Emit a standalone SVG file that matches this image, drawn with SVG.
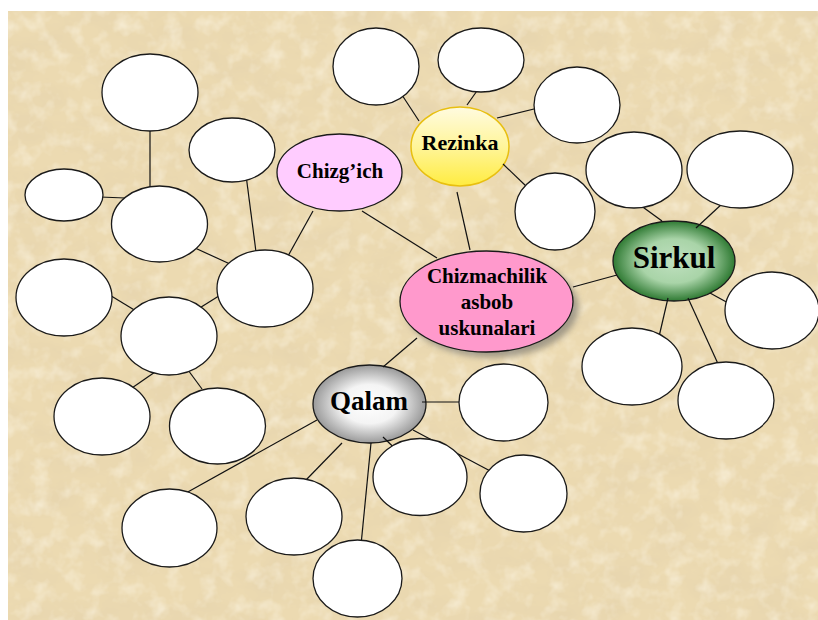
<svg xmlns="http://www.w3.org/2000/svg" width="818" height="620" viewBox="0 0 818 620">
<defs>
<style>
.blank{fill:#ffffff;stroke:#1a1a1a;stroke-width:1.3}
.lbl{font-weight:bold;fill:#000;text-anchor:middle}
#connectors line{stroke:#111;stroke-width:1.2}
</style>
<filter id="tex" x="0" y="0" width="100%" height="100%">
<feTurbulence type="fractalNoise" baseFrequency="0.02 0.035" numOctaves="5" seed="7"/>
<feColorMatrix type="matrix" values="0 0 0 0 0.78  0 0 0 0 0.65  0 0 0 0 0.42  1.3 0 0 0 -0.5"/>
</filter>
<filter id="tex2" x="0" y="0" width="100%" height="100%">
<feTurbulence type="fractalNoise" baseFrequency="0.06" numOctaves="3" seed="2"/>
<feColorMatrix type="matrix" values="0 0 0 0 0.98  0 0 0 0 0.93  0 0 0 0 0.80  1.2 0 0 0 -0.55"/>
</filter>
<filter id="shadow" x="-20%" y="-20%" width="140%" height="140%">
<feGaussianBlur stdDeviation="3"/>
</filter>
<linearGradient id="yellow" x1="0" y1="0" x2="0" y2="1">
<stop offset="0" stop-color="#fffbe0"/>
<stop offset="0.5" stop-color="#fff59a"/>
<stop offset="1" stop-color="#ffec40"/>
</linearGradient>
<radialGradient id="green" cx="0.5" cy="0.5" r="0.5">
<stop offset="0" stop-color="#bfe0bf"/>
<stop offset="0.55" stop-color="#a9d4a8"/>
<stop offset="1" stop-color="#2f7a33"/>
</radialGradient>
<radialGradient id="gray" cx="0.5" cy="0.5" r="0.5">
<stop offset="0" stop-color="#ffffff"/>
<stop offset="0.5" stop-color="#f4f4f4"/>
<stop offset="1" stop-color="#9a9a9a"/>
</radialGradient>
</defs>
<rect x="0" y="0" width="818" height="620" fill="#ffffff"/>
<rect x="8" y="11" width="810" height="609" fill="#ecdab1"/>
<rect x="8" y="11" width="810" height="609" filter="url(#tex)"/>
<rect x="8" y="11" width="810" height="609" filter="url(#tex2)"/>

<g id="n-central">
<ellipse cx="492" cy="307" rx="86.5" ry="50.5" fill="#666" opacity="0.55" filter="url(#shadow)"/>
<ellipse cx="486.5" cy="301.5" rx="86.5" ry="50.5" fill="#ff99cc" stroke="#1a1a1a" stroke-width="1.3"/>
<text class="lbl" font-family="Liberation Serif, Times New Roman, DejaVu Serif, serif" x="487" y="283" font-size="21">Chizmachilik</text>
<text class="lbl" font-family="Liberation Serif, Times New Roman, DejaVu Serif, serif" x="487" y="309" font-size="21">asbob</text>
<text class="lbl" font-family="Liberation Serif, Times New Roman, DejaVu Serif, serif" x="487" y="335" font-size="21">uskunalari</text>
</g>
<g id="n-chizgich">
<ellipse cx="339.5" cy="172.5" rx="62.5" ry="38.5" fill="#ffccff" stroke="#1a1a1a" stroke-width="1.3"/>
<text class="lbl" font-family="Liberation Serif, Times New Roman, DejaVu Serif, serif" x="340" y="178" font-size="21">Chizg’ich</text>
</g>
<g id="n-rezinka">
<ellipse cx="460" cy="146.5" rx="49" ry="39.5" fill="url(#yellow)" stroke="#e8bf10" stroke-width="1.5"/>
<text class="lbl" font-family="Liberation Serif, Times New Roman, DejaVu Serif, serif" x="460" y="150" font-size="22">Rezinka</text>
</g>
<g id="n-sirkul">
<ellipse cx="674" cy="261" rx="61" ry="40" fill="url(#green)" stroke="#1a1a1a" stroke-width="1.3"/>
<text class="lbl" font-family="Liberation Serif, Times New Roman, DejaVu Serif, serif" x="674" y="268" font-size="31">Sirkul</text>
</g>
<g id="n-qalam">
<ellipse cx="369.5" cy="404" rx="56.5" ry="39" fill="url(#gray)" stroke="#1a1a1a" stroke-width="1.3"/>
<text class="lbl" font-family="Liberation Serif, Times New Roman, DejaVu Serif, serif" x="369" y="410" font-size="27">Qalam</text>
</g>

<g id="connectors">
<line x1="150" y1="125" x2="150" y2="192"/>
<line x1="100" y1="197" x2="125" y2="198"/>
<line x1="246" y1="175" x2="256" y2="252"/>
<line x1="313" y1="211" x2="288" y2="256"/>
<line x1="195" y1="248" x2="230" y2="264"/>
<line x1="108" y1="294" x2="136" y2="311"/>
<line x1="198" y1="309" x2="222" y2="294"/>
<line x1="155" y1="372" x2="129" y2="390"/>
<line x1="188" y1="370" x2="202" y2="389"/>
<line x1="362" y1="211" x2="437" y2="258"/>
<line x1="457" y1="192" x2="470" y2="250"/>
<line x1="402" y1="95" x2="419" y2="121"/>
<line x1="479" y1="88" x2="467" y2="105"/>
<line x1="497" y1="118" x2="538" y2="108"/>
<line x1="503" y1="164" x2="527" y2="187"/>
<line x1="573" y1="287" x2="617" y2="275"/>
<line x1="640" y1="205" x2="662" y2="221"/>
<line x1="723" y1="203" x2="696" y2="228"/>
<line x1="710" y1="293" x2="730" y2="304"/>
<line x1="668" y1="298" x2="658" y2="341"/>
<line x1="688" y1="298" x2="719" y2="366"/>
<line x1="417" y1="338" x2="383" y2="367"/>
<line x1="422" y1="402" x2="462" y2="402"/>
<line x1="317" y1="420" x2="186" y2="493"/>
<line x1="342" y1="443" x2="306" y2="480"/>
<line x1="371" y1="443" x2="361" y2="545"/>
<line x1="383" y1="437" x2="412" y2="465"/>
<line x1="413" y1="430" x2="494" y2="473"/>
</g>

<g id="n-b1"><ellipse class="blank" cx="150" cy="92.5" rx="48" ry="38.5"/></g>
<g id="n-b2"><ellipse class="blank" cx="232" cy="150" rx="43" ry="32"/></g>
<g id="n-b3"><ellipse class="blank" cx="64" cy="195" rx="39" ry="26"/></g>
<g id="n-b4"><ellipse class="blank" cx="159.5" cy="224" rx="48" ry="38"/></g>
<g id="n-b5"><ellipse class="blank" cx="265" cy="288.5" rx="48" ry="38.5"/></g>
<g id="n-b6"><ellipse class="blank" cx="64" cy="297.5" rx="48" ry="38.5"/></g>
<g id="n-b7"><ellipse class="blank" cx="169" cy="336" rx="48" ry="39"/></g>
<g id="n-b8"><ellipse class="blank" cx="102" cy="416.5" rx="48" ry="38.5"/></g>
<g id="n-b9"><ellipse class="blank" cx="217.5" cy="426" rx="48" ry="38"/></g>
<g id="n-b10"><ellipse class="blank" cx="376" cy="66.5" rx="43" ry="38.5"/></g>
<g id="n-b11"><ellipse class="blank" cx="481" cy="60" rx="43" ry="32"/></g>
<g id="n-b12"><ellipse class="blank" cx="577" cy="105" rx="43" ry="38"/></g>
<g id="n-b13"><ellipse class="blank" cx="555" cy="211.5" rx="40" ry="38.5"/></g>
<g id="n-b14"><ellipse class="blank" cx="634" cy="170" rx="48" ry="38"/></g>
<g id="n-b15"><ellipse class="blank" cx="740" cy="169.5" rx="53" ry="38.5"/></g>
<g id="n-b16"><ellipse class="blank" cx="772" cy="310.5" rx="47" ry="38.5"/></g>
<g id="n-b17"><ellipse class="blank" cx="632" cy="366.5" rx="50" ry="38.5"/></g>
<g id="n-b18"><ellipse class="blank" cx="726" cy="400.5" rx="48" ry="38.5"/></g>
<g id="n-b19"><ellipse class="blank" cx="503.5" cy="402.5" rx="44.5" ry="38.5"/></g>
<g id="n-b20"><ellipse class="blank" cx="169.5" cy="528" rx="47.5" ry="39"/></g>
<g id="n-b21"><ellipse class="blank" cx="294" cy="516.5" rx="48" ry="38.5"/></g>
<g id="n-b22"><ellipse class="blank" cx="357.5" cy="578.5" rx="44.5" ry="38.5"/></g>
<g id="n-b23"><ellipse class="blank" cx="420" cy="477" rx="47" ry="38.5"/></g>
<g id="n-b24"><ellipse class="blank" cx="523.5" cy="493.5" rx="43.5" ry="38.5"/></g>
</svg>
